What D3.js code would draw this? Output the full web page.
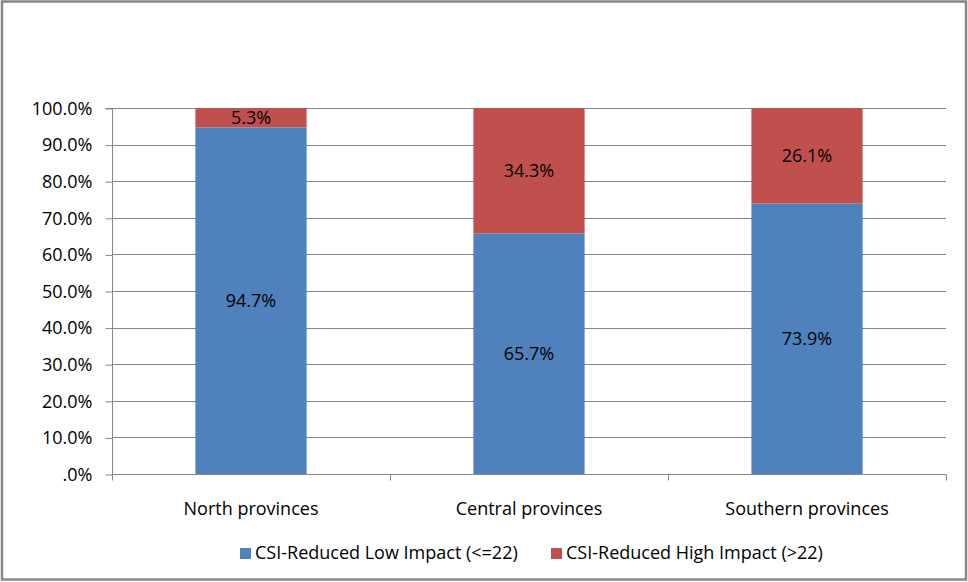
<!DOCTYPE html>
<html><head><meta charset="utf-8">
<script src="https://cdn.jsdelivr.net/npm/d3@7"></script>
<style>body{margin:0;background:#fff}svg{display:block}text{font-family:"Open Sans",Lato,sans-serif}</style>
</head><body>
<svg id="c" width="968" height="582"></svg>
<script>
const categories = ["North provinces","Central provinces","Southern provinces"];
const seriesNames = ["CSI-Reduced Low Impact (<=22)","CSI-Reduced High Impact (>22)"];
const lowImpact = [94.7, 65.7, 73.9];
const highImpact = [5.3, 34.3, 26.1];
const yTicks = [0,10,20,30,40,50,60,70,80,90,100];
const colors = ["#4F81BD","#C0504D"];
const FONT = "'Open Sans',Lato,sans-serif";
const FS = "18px";

const svg = d3.select("#c");
svg.append("rect").attr("x",2).attr("y",1.5).attr("width",964).attr("height",578)
  .attr("fill","#fff").attr("stroke","#878787").attr("stroke-width",2.5);

const m = {l:112, r:946, t:108, b:474};
const x = d3.scaleBand().domain(categories).range([m.l,m.r]).paddingInner(0).paddingOuter(0);
const y = d3.scaleLinear().domain([0,100]).range([m.b,m.t]);

// gridlines
svg.append("g").selectAll("line").data(yTicks.slice(1)).join("line")
  .attr("x1",m.l).attr("x2",m.r).attr("y1",d=>Math.round(y(d))+0.5).attr("y2",d=>Math.round(y(d))+0.5)
  .attr("stroke","#878787").attr("stroke-width",1);

// y axis
const yAxis = d3.axisLeft(y).tickValues(yTicks).tickSize(7).tickPadding(13)
  .tickFormat(d => d===0 ? ".0%" : d.toFixed(1)+"%");
const gy = svg.append("g").attr("transform",`translate(${m.l+0.5},0.5)`).call(yAxis);
gy.select(".domain").attr("stroke","#878787").attr("d",`M-7,${m.t}H0V${m.b}`);
gy.selectAll(".tick line").attr("stroke","#878787");
gy.selectAll(".tick text").attr("fill","#000").style("font-size",FS).style("font-family",FONT);

// x axis
const gx = svg.append("g").attr("transform",`translate(0,${m.b+0.5})`);
gx.append("line").attr("x1",m.l).attr("x2",m.r).attr("stroke","#878787");
const bounds = [m.l, ...categories.map(c=>x(c)+x.bandwidth())];
gx.selectAll(".tk").data(bounds).join("line").attr("class","tk")
  .attr("x1",d=>Math.round(d)+0.5).attr("x2",d=>Math.round(d)+0.5).attr("y1",0).attr("y2",6).attr("stroke","#878787");
gx.selectAll("text").data(categories).join("text")
  .attr("x",d=>x(d)+x.bandwidth()/2).attr("y",40.5).attr("text-anchor","middle")
  .attr("fill","#000").style("font-size",FS).text(d=>d);

// stacked bars
const rows = categories.map((c,i)=>({cat:c, low:lowImpact[i], high:highImpact[i]}));
const stack = d3.stack().keys(["low","high"])(rows);
const bw = x.bandwidth()*0.4;
stack.forEach((layer,li)=>{
  const g = svg.append("g");
  g.selectAll("rect").data(layer).join("rect")
    .attr("x",d=>x(d.data.cat)+x.bandwidth()/2-bw/2).attr("width",bw)
    .attr("y",d=>y(d[1])).attr("height",d=>y(d[0])-y(d[1]))
    .attr("fill",colors[li]);
  g.selectAll("text").data(layer).join("text")
    .attr("x",d=>x(d.data.cat)+x.bandwidth()/2).attr("y",d=>(y(d[0])+y(d[1]))/2)
    .attr("dy","0.35em").attr("text-anchor","middle").attr("fill","#000").style("font-size",FS)
    .text(d=>(d[1]-d[0]).toFixed(1)+"%");
});

// legend
const legX = [240, 551];
const lg = svg.append("g");
seriesNames.forEach((s,i)=>{
  lg.append("rect").attr("x",legX[i]).attr("y",548).attr("width",11).attr("height",11).attr("fill",colors[i]);
  lg.append("text").attr("x",legX[i]+15).attr("y",559).attr("fill","#000")
    .style("font-size",FS).text(s);
});
</script>
</body></html>
